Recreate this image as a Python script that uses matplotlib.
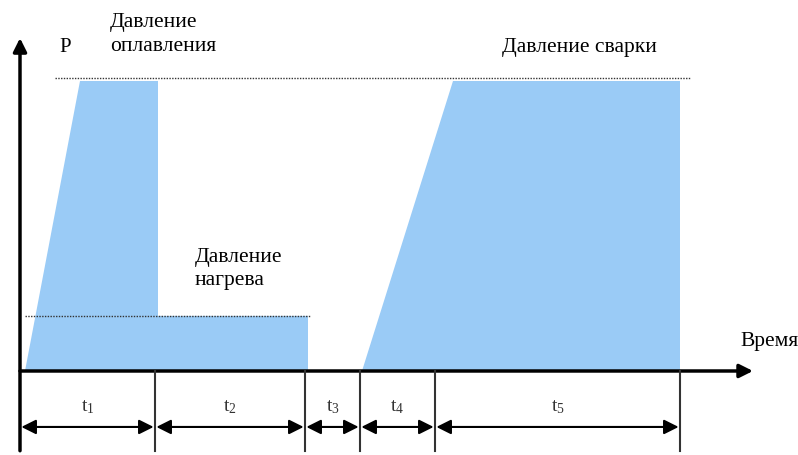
import matplotlib
matplotlib.use("Agg")
import matplotlib.pyplot as plt

plt.rcParams['font.family'] = ['Liberation Serif', 'DejaVu Serif']

# ---- data ----
phase_bounds = [0, 135, 285, 340, 415, 660]
phase_labels = ['t1', 't2', 't3', 't4', 't5']
p_heat = 0.19
p_weld = 1.0
# pressure profile 1: melt (оплавление) + heating (нагрев)
prof1_t = [5, 60, 138, 138, 288, 288]
prof1_p = [0, p_weld, p_weld, p_heat, p_heat, 0]
# pressure profile 2: welding (сварка)
prof2_t = [342, 433, 660, 660]
prof2_p = [0, p_weld, p_weld, 0]

blue = '#9ACBF6'

fig = plt.figure(figsize=(7.98, 4.55), dpi=100)
ax = fig.add_axes([0, 0, 1, 1])
ax.set_xlim(-20, 778)
ax.set_ylim(-0.2897, 1.2793)
ax.axis('off')

ax.fill(prof1_t, prof1_p, color=blue, lw=0, zorder=1)
ax.fill(prof2_t, prof2_p, color=blue, lw=0, zorder=1)

# dotted reference lines
ax.plot([35, 670], [p_weld + 0.01, p_weld + 0.01], ls=(0, (1, 1)), color='#333333', lw=1.0, zorder=2)
ax.plot([5, 290], [p_heat, p_heat], ls=(0, (1, 1)), color='#333333', lw=1.0, zorder=2)

# axes arrows
ax.annotate('', xy=(733, 0), xytext=(0, 0),
            arrowprops=dict(arrowstyle='-|>', color='black', lw=2.5, mutation_scale=20,
                            shrinkA=0, shrinkB=0), zorder=3)
ax.annotate('', xy=(0, 1.148), xytext=(0, -0.275),
            arrowprops=dict(arrowstyle='-|>', color='black', lw=2.5, mutation_scale=20,
                            shrinkA=0, shrinkB=0), zorder=3)

# phase boundaries
for b in phase_bounds[1:]:
    ax.plot([b, b], [0, -0.275], color='#333333', lw=1.5, zorder=3)

# dimension arrows and labels
y_dim = -0.193
y_lab = -0.124
for i, lab in enumerate(phase_labels):
    a, b = phase_bounds[i], phase_bounds[i + 1]
    ax.annotate('', xy=(b, y_dim), xytext=(a, y_dim),
                arrowprops=dict(arrowstyle='<|-|>', color='black', lw=1.5, mutation_scale=22,
                                shrinkA=1, shrinkB=1), zorder=3)
    ax.text((a + b) / 2, y_lab, r'$\mathregular{t_{%s}}$' % lab[1:], ha='center', va='center',
            fontsize=14, color='#333333')

# texts
ax.text(90, 1.160, 'Давление\nоплавления', ha='left', va='center', fontsize=15.5, linespacing=1.3)
ax.text(482, 1.117, 'Давление сварки', ha='left', va='center', fontsize=15.5)
ax.text(175, 0.353, 'Давление\nнагрева', ha='left', va='center', fontsize=15.5, linespacing=1.3)
ax.text(720, 0.103, 'Время', ha='left', va='center', fontsize=15.5)
ax.text(45, 1.117, 'P', ha='center', va='center', fontsize=15)

fig.savefig('out.png', dpi=100)
